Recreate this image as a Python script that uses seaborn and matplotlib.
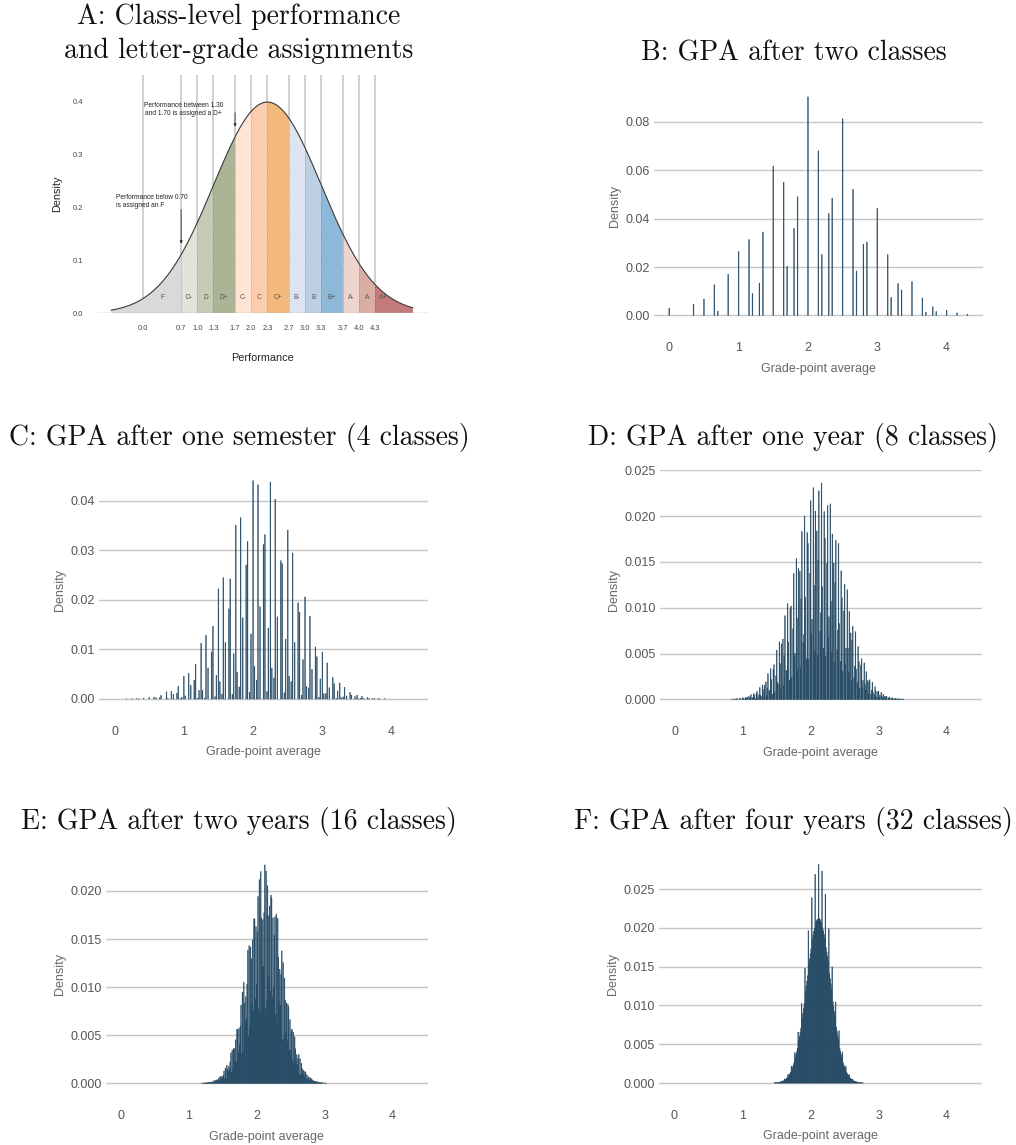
import math
import numpy as np
import pandas as pd
import matplotlib
matplotlib.use("Agg")
import matplotlib.pyplot as plt
import seaborn as sns

# ---- data -------------------------------------------------------------
LETTERS = ["F", "D-", "D", "D+", "C-", "C", "C+", "B-", "B", "B+", "A-", "A", "A+"]
GRADE_POINTS = [0.0, 0.7, 1.0, 1.3, 1.7, 2.0, 2.3, 2.7, 3.0, 3.3, 3.7, 4.0, 4.3]
BAND_COLORS = ["#d9d9d9", "#e0e3d8", "#c5cbb5", "#a9b595",
               "#fee5d3", "#fccdac", "#f3b87c",
               "#dde3ef", "#bccfe3", "#8eb8d7",
               "#eed3ce", "#dbaea5", "#c37b7a"]
BAND_EDGES = ["#b0b0b0", "#b9bdb0", "#9ea68d", "#7f8c6b",
              "#e8c2a6", "#e5a57a", "#d9914a",
              "#b4bdd0", "#90a7c3", "#5d91b9",
              "#cfa9a2", "#b9857a", "#9c5453"]
PERF_MEAN = 2.3          # class-level performance ~ Normal(2.3, 1)
PERF_SD = 1.0
PERF_RANGE = (-0.6, 5.0)
CLASS_COUNTS = [2, 4, 8, 16, 32]
TITLE_A = ["A: Class-level performance", "and letter-grade assignments"]
PANEL_TITLES = ["B: GPA after two classes",
                "C: GPA after one semester (4 classes)",
                "D: GPA after one year (8 classes)",
                "E: GPA after two years (16 classes)",
                "F: GPA after four years (32 classes)"]
Y_TICKS = [[0.0, 0.02, 0.04, 0.06, 0.08],
           [0.0, 0.01, 0.02, 0.03, 0.04],
           [0.0, 0.005, 0.010, 0.015, 0.020, 0.025],
           [0.0, 0.005, 0.010, 0.015, 0.020],
           [0.0, 0.005, 0.010, 0.015, 0.020, 0.025]]
Y_FMT = ["{:.2f}", "{:.2f}", "{:.3f}", "{:.3f}", "{:.3f}"]
BIN_WIDTH = 0.01
BAR_COLOR = "#254a64"

# ---- derived quantities ----------------------------------------------
def norm_pdf(x):
    return np.exp(-0.5 * ((np.asarray(x) - PERF_MEAN) / PERF_SD) ** 2) / (PERF_SD * math.sqrt(2 * math.pi))


def norm_cdf(x):
    return 0.5 * (1.0 + math.erf((x - PERF_MEAN) / (PERF_SD * math.sqrt(2.0))))


cuts = GRADE_POINTS[1:]
cdf = [0.0] + [norm_cdf(c) for c in cuts] + [1.0]
grade_probs = np.diff(cdf)

# distribution of the sum of grade points (in tenths) after n classes
tenths = [int(round(g * 10)) for g in GRADE_POINTS]
single = np.zeros(max(tenths) + 1)
single[tenths] = grade_probs


def gpa_table(n):
    pmf = np.array([1.0])
    for _ in range(n):
        pmf = np.convolve(pmf, single)
    s = np.arange(len(pmf))
    keep = pmf > 0
    return pd.DataFrame({"gpa": s[keep] / (10.0 * n), "prob": pmf[keep]})


# ---- figure -----------------------------------------------------------
sns.set_style("white")
plt.rcParams["font.family"] = ["Liberation Sans", "DejaVu Sans"]

W, H = 1016, 1145
fig = plt.figure(figsize=(W / 100, H / 100), dpi=100)


def add_box(l, r, t, b):
    return fig.add_axes([l / W, 1 - b / H, (r - l) / W, (b - t) / H])


TITLE_FONT = dict(family="cmr10", size=20, color="#111111")

# ---- panel A ----------------------------------------------------------
axA = add_box(96, 428, 75, 313.3)
xs = np.linspace(PERF_RANGE[0], PERF_RANGE[1], 600)
dens = norm_pdf(xs)

axA.vlines(GRADE_POINTS, 0, 0.45, color="#cdcdcd", lw=1.3, zorder=1)
bounds = [PERF_RANGE[0]] + cuts + [PERF_RANGE[1]]
for i in range(len(LETTERS)):
    lo, hi = bounds[i], bounds[i + 1]
    m = (xs > lo) & (xs < hi)
    xx = np.concatenate([[lo], xs[m], [hi]])
    axA.fill_between(xx, 0, norm_pdf(xx), facecolor=BAND_COLORS[i],
                     edgecolor="none", zorder=2)
    for edge in (lo, hi):
        if PERF_RANGE[0] < edge < PERF_RANGE[1]:
            axA.plot([edge, edge], [0, float(norm_pdf(edge))], color=BAND_EDGES[i],
                     lw=0.6, ls=(0, (1, 1.2)), zorder=2.5)
sns.lineplot(x=xs, y=dens, ax=axA, color="#3a3a3a", lw=0.8, zorder=3)
axA.axhline(0, color="#b5b5b5", lw=1.0, zorder=4)

label_x = [(a + b) / 2 for a, b in zip(GRADE_POINTS, GRADE_POINTS[1:] + [4.6])]
for lx, letter in zip(label_x, LETTERS):
    axA.text(lx, 0.03, letter, ha="center", va="center", fontsize=4.8,
             color="#555555", zorder=5)

axA.text(0.74, 0.384, "Performance between 1.30\nand 1.70 is assigned a D+",
         ha="center", va="center", fontsize=4.8, color="#222222",
         multialignment="center", zorder=6)
axA.annotate("", xy=(1.7, 0.347), xytext=(1.7, 0.384),
             arrowprops=dict(arrowstyle="-|>", color="#333333", lw=0.6,
                             mutation_scale=4), zorder=6)
axA.text(-0.5, 0.211, "Performance below 0.70\nis assigned an F", ha="left",
         va="center", fontsize=4.8, color="#222222", zorder=6)
axA.annotate("", xy=(0.7, 0.126), xytext=(0.7, 0.201),
             arrowprops=dict(arrowstyle="-|>", color="#333333", lw=0.6,
                             mutation_scale=4), zorder=6)

axA.set_xlim(-0.88, 5.28)
axA.set_ylim(0, 0.45)
axA.set_xticks(GRADE_POINTS)
axA.set_xticklabels([f"{g:.1f}" for g in GRADE_POINTS])
axA.set_yticks([0.0, 0.1, 0.2, 0.3, 0.4])
axA.set_yticklabels(["0.0", "0.1", "0.2", "0.3", "0.4"])
axA.tick_params(axis="x", length=0, pad=8.6, labelsize=5.4, labelcolor="#444444")
axA.tick_params(axis="y", length=0, pad=9.0, labelsize=5.4, labelcolor="#444444")
axA.set_xlabel("Performance", fontsize=7.8, color="#222222", labelpad=15)
axA.set_ylabel("Density", fontsize=7.8, color="#222222", labelpad=8)
for sp in axA.spines.values():
    sp.set_visible(False)
axA.grid(False)
fig.text(239 / W, 1 - 17 / H, TITLE_A[0], ha="center", va="center", **TITLE_FONT)
fig.text(239 / W, 1 - 51 / H, TITLE_A[1], ha="center", va="center", **TITLE_FONT)

# ---- panels B-F -------------------------------------------------------
boxes = [(654, 982.7, 85.9, 326.3),
         (99.3, 427.7, 469.7, 709.9),
         (660, 981.7, 470.3, 710.2),
         (106, 427.7, 854, 1094.2),
         (659.3, 982, 853.6, 1094)]
title_pos = [(794, 53), (239, 437), (793, 437), (239, 822), (793, 822)]
bin_range = (-0.5 * BIN_WIDTH + 1e-9, 430.5 * BIN_WIDTH + 1e-9)

for k, n in enumerate(CLASS_COUNTS):
    ax = add_box(*boxes[k])
    df = gpa_table(n)
    sns.histplot(data=df, x="gpa", weights="prob", binwidth=BIN_WIDTH,
                 binrange=bin_range, stat="count",
                 color=BAR_COLOR, edgecolor=BAR_COLOR, linewidth=0.35, alpha=1.0,
                 ax=ax)
    heights = []
    for p in ax.patches:
        h = p.get_height()
        if h < 2e-5:
            p.set_visible(False)
        p.set_snap(False)
        p.set_zorder(3)
        heights.append(h)
    ymax = max(heights)
    ax.set_xlim(-0.22, 4.52)
    ax.set_ylim(-0.05 * ymax, 1.05 * ymax)
    ax.set_xticks([0, 1, 2, 3, 4])
    ax.set_xticklabels(["0", "1", "2", "3", "4"])
    ax.set_yticks(Y_TICKS[k])
    ax.set_yticklabels([Y_FMT[k].format(v) for v in Y_TICKS[k]])
    ax.tick_params(axis="x", length=0, pad=11.5, labelsize=9, labelcolor="#555555")
    ax.tick_params(axis="y", length=0, pad=3, labelsize=9, labelcolor="#555555")
    ax.set_xlabel("Grade-point average", fontsize=9, color="#666666", labelpad=6)
    ax.set_ylabel("Density", fontsize=9, color="#666666", labelpad=3.5)
    ax.yaxis.grid(True, color="#c6c6c6", lw=1.0, zorder=0)
    ax.xaxis.grid(False)
    ax.set_axisbelow(True)
    for sp in ax.spines.values():
        sp.set_visible(False)
    tx, ty = title_pos[k]
    fig.text(tx / W, 1 - ty / H, PANEL_TITLES[k], ha="center", va="center",
             **TITLE_FONT)

fig.savefig("out.png", dpi=100, facecolor="white")
